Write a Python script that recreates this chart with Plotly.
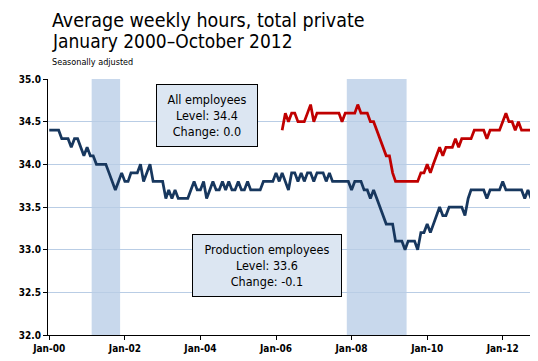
import pandas as pd
import plotly.graph_objects as go

# ---- data ----
prod_start = "2000-01-01"
production = [
    34.4, 34.4, 34.4, 34.4, 34.3, 34.3, 34.3, 34.2, 34.3, 34.3, 34.2, 34.1,  # 2000
    34.2, 34.1, 34.1, 34.0, 34.0, 34.0, 34.0, 33.9, 33.8, 33.7, 33.8, 33.9,  # 2001
    33.8, 33.8, 33.9, 33.9, 33.9, 34.0, 33.8, 33.9, 34.0, 33.8, 33.8, 33.8,  # 2002
    33.8, 33.6, 33.7, 33.6, 33.7, 33.6, 33.6, 33.6, 33.6, 33.7, 33.8, 33.7,  # 2003
    33.7, 33.8, 33.6, 33.7, 33.8, 33.7, 33.7, 33.8, 33.7, 33.8, 33.7, 33.7,  # 2004
    33.8, 33.7, 33.7, 33.8, 33.7, 33.7, 33.7, 33.7, 33.8, 33.8, 33.8, 33.8,  # 2005
    33.9, 33.8, 33.9, 33.8, 33.7, 33.9, 33.9, 33.8, 33.9, 33.8, 33.9, 33.9,  # 2006
    33.8, 33.9, 33.9, 33.9, 33.8, 33.9, 33.8, 33.8, 33.8, 33.8, 33.8, 33.8,  # 2007
    33.7, 33.8, 33.8, 33.8, 33.7, 33.7, 33.6, 33.7, 33.6, 33.5, 33.4, 33.3,  # 2008
    33.3, 33.3, 33.1, 33.1, 33.1, 33.0, 33.1, 33.1, 33.1, 33.0, 33.2, 33.2,  # 2009
    33.3, 33.2, 33.3, 33.4, 33.5, 33.4, 33.4, 33.5, 33.5, 33.5, 33.5, 33.5,  # 2010
    33.4, 33.6, 33.7, 33.7, 33.7, 33.7, 33.7, 33.6, 33.7, 33.7, 33.7, 33.7,  # 2011
    33.8, 33.7, 33.7, 33.7, 33.7, 33.7, 33.7, 33.6, 33.7, 33.6,              # 2012
]

all_start = "2006-03-01"
all_employees = [
    34.4, 34.6, 34.5, 34.6, 34.6, 34.5, 34.5, 34.5, 34.6, 34.7,              # 2006 (Mar-Dec)
    34.5, 34.6, 34.6, 34.6, 34.6, 34.6, 34.6, 34.6, 34.6, 34.5, 34.6, 34.6,  # 2007
    34.6, 34.6, 34.7, 34.6, 34.6, 34.6, 34.5, 34.5, 34.4, 34.3, 34.2, 34.1,  # 2008
    34.1, 33.9, 33.8, 33.8, 33.8, 33.8, 33.8, 33.8, 33.8, 33.8, 33.9, 33.9,  # 2009
    34.0, 33.9, 34.0, 34.1, 34.2, 34.1, 34.2, 34.2, 34.2, 34.3, 34.2, 34.3,  # 2010
    34.3, 34.3, 34.3, 34.4, 34.4, 34.4, 34.4, 34.3, 34.4, 34.4, 34.4, 34.4,  # 2011
    34.5, 34.6, 34.5, 34.5, 34.4, 34.5, 34.4, 34.4, 34.4, 34.4,              # 2012
]

recession_start = ["2001-03-01", "2007-12-01"]
recession_end = ["2001-11-01", "2009-06-01"]

title_text = "Average weekly hours, total private"
subtitle_text = "January 2000\u2013October 2012"
note_text = "Seasonally adjusted"
box_all = ["All employees", "Level: 34.4", "Change: 0.0"]
box_prod = ["Production employees", "Level: 33.6", "Change: -0.1"]

# ---- build ----
prod_dates = pd.date_range(prod_start, periods=len(production), freq="MS")
all_dates = pd.date_range(all_start, periods=len(all_employees), freq="MS")

FONT = "DejaVu Sans Condensed, Liberation Sans, sans-serif"
BLUE = "#17375e"
RED = "#c00000"

fig = go.Figure()
fig.add_trace(go.Scatter(x=prod_dates, y=production, mode="lines",
                         line=dict(color=BLUE, width=2.75), name="Production employees"))
fig.add_trace(go.Scatter(x=all_dates, y=all_employees, mode="lines",
                         line=dict(color=RED, width=2.75), name="All employees"))

half = pd.Timedelta(days=15)
for s, e in zip(recession_start, recession_end):
    fig.add_shape(type="rect", xref="x", yref="paper",
                  x0=pd.Timestamp(s) - half, x1=pd.Timestamp(e) + half,
                  y0=0, y1=1, fillcolor="#c8d8ec", line=dict(width=0), layer="between")

ann = [
    dict(text=title_text, x=0.004, y=1.229, xanchor="left", yanchor="middle",
         font=dict(size=19.5, color="black", family=FONT)),
    dict(text=subtitle_text, x=0.004, y=1.148, xanchor="left", yanchor="middle",
         font=dict(size=19, color="black", family=FONT)),
    dict(text=note_text, x=0.004, y=1.066, xanchor="left", yanchor="middle",
         font=dict(size=9, color="black", family=FONT)),
    dict(text="<br>".join(box_all), x=0.3255, y=0.859, xanchor="center", yanchor="middle",
         font=dict(size=12.5, color="black", family=FONT), bgcolor="#dce6f2",
         bordercolor="black", borderwidth=1, borderpad=4, width=92, height=53),
    dict(text="<br>".join(box_prod), x=0.446, y=0.273, xanchor="center", yanchor="middle",
         font=dict(size=12.5, color="black", family=FONT), bgcolor="#dce6f2",
         bordercolor="black", borderwidth=1, borderpad=4, width=140, height=53),
]
for a in ann:
    fig.add_annotation(xref="paper", yref="paper", showarrow=False, **a)

# the page body keeps its default 8px margin, so the figure is sized to end at the window edge
fig.update_layout(
    width=530, height=353,
    margin=dict(l=40, r=0, t=71, b=26, pad=0),
    paper_bgcolor="white", plot_bgcolor="white",
    showlegend=False,
    font=dict(family=FONT, color="black"),
)
fig.update_xaxes(type="date", range=["1999-12-20", "2012-12-07"],
                 tick0="2000-01-01", dtick="M24", tickformat="%b-%y",
                 showgrid=False, zeroline=False, showline=True, linecolor="black", linewidth=1,
                 ticks="outside", ticklen=4, tickcolor="black",
                 tickfont=dict(size=10, family=FONT, weight="bold", color="black"))
fig.update_yaxes(range=[32, 35], tick0=32, dtick=0.5, tickformat=".1f",
                 showgrid=True, gridcolor="#b9cde5", gridwidth=1, zeroline=False,
                 showline=True, linecolor="black", linewidth=1,
                 ticks="outside", ticklen=4, tickcolor="black",
                 tickfont=dict(size=10, family=FONT, weight="bold", color="black"))

fig.write_html("out.html")
